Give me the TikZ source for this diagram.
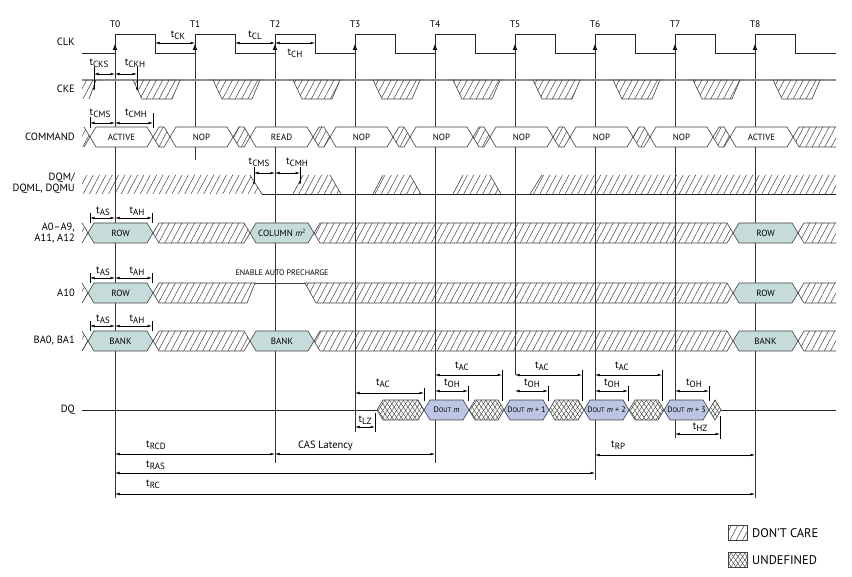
\documentclass[tikz,border=0pt]{standalone}
\usepackage{fontspec}
\setmainfont{PT Sans}
\usetikzlibrary{patterns, patterns.meta, arrows.meta}

\definecolor{addrfill}{HTML}{C5DCDB}
\definecolor{doutfill}{HTML}{BCC5E3}

\newcommand{\tsub}[1]{t\raisebox{-2.2pt}{\fontsize{9}{9}\selectfont#1}}
\newcommand{\hexshape}[4][bus]{\path[#1] (#2,#4) -- (#2+6,#4-10) -- (#3-6,#4-10) -- (#3,#4) -- (#3-6,#4+10) -- (#2+6,#4+10) -- cycle;}
\newcommand{\undefhex}[3]{\hexshape[fill=white]{#1}{#2}{#3}\hexshape[xa]{#1}{#2}{#3}\hexshape[xb]{#1}{#2}{#3}\hexshape[bus]{#1}{#2}{#3}}

\tikzset{
  sig/.style={line width=0.6pt, draw=black!85},
  tline/.style={line width=0.5pt, draw=black!80},
  dim/.style={line width=0.5pt, {Latex[length=4.5pt,width=2.6pt]}-{Latex[length=4.5pt,width=2.6pt]}},
  tick/.style={line width=0.5pt},
  tickarr/.style={line width=0.5pt, -{Latex[length=3pt,width=2pt]}},
  bus/.style={draw=black!75, line width=0.6pt},
  addr/.style={bus, fill=addrfill},
  dc/.style={pattern={Lines[angle=62,distance=5.6pt,line width=0.45pt]}, pattern color=black!80},
  xa/.style={pattern={Lines[angle=56,distance=3.8pt,line width=0.4pt]}, pattern color=black!80},
  xb/.style={pattern={Lines[angle=-56,distance=3.8pt,line width=0.4pt]}, pattern color=black!80},
  lbl/.style={anchor=east, font=\fontsize{10.5}{11.5}\selectfont, align=right, inner sep=0pt},
  tlab/.style={font=\fontsize{10.5}{11}\selectfont, inner sep=0pt},
  inner/.style={font=\fontsize{9}{10}\selectfont, inner sep=0pt},
}

\begin{document}
\begin{tikzpicture}[x=1pt, y=-1pt]
\useasboundingbox (0,0) rectangle (852,577);

% signal names
\node[lbl] (nclk) at (75,42) {CLK};
\node[lbl] (ncke) at (75,89) {CKE};
\node[lbl] (ncmd) at (75,137) {COMMAND};
\node[lbl] (ndqm) at (75,183) {DQM/\\DQML, DQMU};
\node[lbl] (naddr) at (75,233) {A0–A9,\\A11, A12};
\node[lbl] (na10) at (75,293) {A10};
\node[lbl] (nba) at (75,341) {BA0, BA1};
\node[lbl] (ndq) at (75,410) {DQ};

% clock edges and reference lines
\foreach \k/\e [evaluate=\k as \x using 115+80*\k] in {0/498,1/160,2/463,3/432,4/463,5/375,6/480,7/438,8/498}{
  \draw[tline] (\x,53) -- (\x,\e);
  \node[font=\fontsize{9.5}{10}\selectfont] (T\k) at (\x,24) {T\k};
  \fill (\x-2.2,50) -- (\x+2.2,50) -- (\x,44) -- cycle;
}
\draw[sig] (82,53) \foreach \k [evaluate=\k as \x using 115+80*\k] in {0,...,8}{ -- (\x,53) -- (\x,34) -- (\x+40,34) -- (\x+40,53)} -- (836,53);

\draw[dim] (155,43) -- (195,43); \node[tlab] (tck) at (178,35) {\tsub{CK}};
\draw[dim] (235,43) -- (275,43); \node[tlab] (tcl) at (255,35) {\tsub{CL}};
\draw[dim] (275,43) -- (315,43); \node[tlab] (tch) at (295,53) {\tsub{CH}};

% CKE
\draw[line width=1.3pt, black!45] (82,80) -- (836,80);
\path[dc] (82,80) -- (96,80) -- (89,99) -- (82,99) -- cycle;
\draw[bus] (96,80) -- (89,99);
\foreach \k [evaluate=\k as \x using 115+80*\k] in {0,...,8}{
  \path[dc] (\x+18,80) -- (\x+65,80) -- (\x+57,99) -- (\x+27,99) -- cycle;
  \draw[bus] (\x+18,80) -- (\x+27,99) -- (\x+57,99) -- (\x+65,80);
}
\draw[dim] (94,74) -- (115,74);
\draw[dim] (115,74) -- (137,74);
\draw[tickarr] (94,67) -- (94,91);
\draw[tickarr] (137,67) -- (137,91);
\node[tlab] (tcks) at (99,63) {\tsub{CKS}};
\node[tlab] (tckh) at (135,63) {\tsub{CKH}};

% COMMAND
\path[dc] (82,127) -- (84,127) -- (90,137) -- (84,147) -- (82,147) -- cycle;
\draw[bus] (84,127) -- (90,137) -- (84,147);
\foreach \k/\c [evaluate=\k as \x using 115+80*\k] in {0/ACTIVE,1/NOP,2/READ,3/NOP,4/NOP,5/NOP,6/NOP,7/NOP,8/ACTIVE}{
  \hexshape[bus,fill=white]{\x-25}{\x+38}{137}
  \node[inner] (cmd\k) at (\x+6.5,137) {\c};
}
\foreach \k [evaluate=\k as \x using 115+80*\k] in {0,...,7}{
  \hexshape[dc]{\x+38}{\x+55}{137}
  \hexshape[bus]{\x+38}{\x+55}{137}
}
\path[dc] (793,137) -- (799,127) -- (836,127) -- (836,147) -- (799,147) -- cycle;
\draw[bus] (836,127) -- (799,127) -- (793,137) -- (799,147) -- (836,147);
\draw[dim] (90,123) -- (115,123);
\draw[dim] (115,123) -- (153,123);
\draw[tick] (90,117) -- (90,128);
\draw[tick] (153,113) -- (153,128);
\node[tlab] (tcms) at (100,113) {\tsub{CMS}};
\node[tlab] (tcmh) at (136,113) {\tsub{CMH}};

% DQM
\path[dc] (82,175) -- (250,175) -- (262,194) -- (82,194) -- cycle;
\draw[bus] (250,175) -- (262,194);
\draw[sig] (262,194) -- (836,194);
\foreach \k [evaluate=\k as \x using 115+80*\k] in {2,3,4}{
  \path[dc] (\x+18,194) -- (\x+28,175) -- (\x+55,175) -- (\x+66,194) -- cycle;
  \draw[bus] (\x+18,194) -- (\x+28,175);
  \draw[bus] (\x+55,175) -- (\x+66,194);
}
\path[dc] (530,194) -- (542,175) -- (836,175) -- (836,194) -- cycle;
\draw[bus] (530,194) -- (542,175);
\draw[dim] (254,173) -- (275,173);
\draw[dim] (275,173) -- (300,173);
\draw[tickarr] (254,167) -- (254,185);
\draw[tickarr] (300,167) -- (300,185);
\node[tlab] (tcms2) at (259,162) {\tsub{CMS}};
\node[tlab] (tcmh2) at (297,162) {\tsub{CMH}};

% address rows
\foreach \m/\a/\b/\c in {233/ROW/{COLUMN \textit{m}\textsuperscript{2}}/ROW, 341/BANK/BANK/BANK}{
  \path[dc] (82,\m-10) -- (88,\m) -- (82,\m+10) -- cycle;
  \draw[bus] (82,\m-10) -- (88,\m) -- (82,\m+10);
  \hexshape[addr]{88}{153}{\m}
  \hexshape[dc]{153}{250}{\m} \hexshape[bus]{153}{250}{\m}
  \hexshape[addr]{250}{314}{\m}
  \hexshape[dc]{314}{733}{\m} \hexshape[bus]{314}{733}{\m}
  \hexshape[addr]{733}{798}{\m}
  \path[dc] (798,\m) -- (804,\m-10) -- (836,\m-10) -- (836,\m+10) -- (804,\m+10) -- cycle;
  \draw[bus] (836,\m-10) -- (804,\m-10) -- (798,\m) -- (804,\m+10) -- (836,\m+10);
  \node[inner] at (120.5,\m) {\a};
  \node[inner] at (282,\m) {\b};
  \node[inner] at (765.5,\m) {\c};
}
% A10
\path[dc] (82,283) -- (88,293) -- (82,303) -- cycle;
\draw[bus] (82,283) -- (88,293) -- (82,303);
\hexshape[addr]{88}{153}{293}
\path[dc] (153,293) -- (159,283) -- (255,283) -- (247,303) -- (159,303) -- cycle;
\draw[bus] (153,293) -- (159,283) -- (255,283) -- (247,303) -- (159,303) -- cycle;
\draw[bus] (255,283) -- (305,283);
\path[dc] (305,283) -- (727,283) -- (733,293) -- (727,303) -- (316,303) -- cycle;
\draw[bus] (305,283) -- (727,283) -- (733,293) -- (727,303) -- (316,303) -- cycle;
\hexshape[addr]{733}{798}{293}
\path[dc] (798,293) -- (804,283) -- (836,283) -- (836,303) -- (804,303) -- cycle;
\draw[bus] (836,283) -- (804,283) -- (798,293) -- (804,303) -- (836,303);
\node[inner] (a10row) at (120.5,293) {ROW};
\node[inner] (a10row2) at (765.5,293) {ROW};
\node[font=\fontsize{8}{9}\selectfont, inner sep=0pt] (eap) at (282,273) {ENABLE AUTO PRECHARGE};
\foreach \tp in {223,283,331}{
  \draw[dim] (90,\tp-5) -- (115,\tp-5);
  \draw[dim] (115,\tp-5) -- (152,\tp-5);
  \draw[tick] (90,\tp-10) -- (90,\tp);
  \draw[tick] (152,\tp-10) -- (152,\tp);
  \node[tlab] at (103,\tp-12) {\tsub{AS}};
  \node[tlab] at (137,\tp-12) {\tsub{AH}};
}

% DQ
\draw[sig] (82,410) -- (836,410);
\undefhex{377}{424}{410}
\foreach \k/\n [evaluate=\k as \x using 115+80*\k] in {4/,5/ + 1,6/ + 2,7/ + 3}{
  \hexshape[bus,fill=doutfill]{\x-11}{\x+34}{410}
  \node[font=\fontsize{8}{9}\selectfont, inner sep=0pt] (dout\k) at (\x+11.5,410) {D{\fontsize{6.5}{7}\selectfont OUT} \textit{m}\n};
}
\undefhex{469}{504}{410}
\undefhex{549}{584}{410}
\undefhex{629}{664}{410}
\undefhex{709}{721}{410}

\draw[dim] (355,393) -- (424,393);
\draw[tick] (424,388) -- (424,401);
\node[tlab] (tac1) at (383,383) {\tsub{AC}};
\draw[dim] (355,427) -- (375,427);
\draw[tick] (375,413) -- (375,432);
\node[tlab] (tlz) at (365,420) {\tsub{LZ}};
\foreach \k [evaluate=\k as \x using 115+80*\k] in {4,5,6}{
  \draw[dim] (\x,375) -- (\x+67,375);
  \draw[tick] (\x+67,370) -- (\x+67,401);
  \node[tlab] (tac\k) at (\x+27,366) {\tsub{AC}};
  \draw[dim] (\x,391) -- (\x+33,391);
  \draw[tick] (\x+33,386) -- (\x+33,401);
  \node[tlab] (toh\k) at (\x+17,383) {\tsub{OH}};
}
\draw[dim] (675,391) -- (709,391);
\draw[tick] (709,386) -- (709,401);
\node[tlab] (toh7) at (694,383) {\tsub{OH}};
\draw[dim] (675,434) -- (720,434);
\draw[tick] (720,416) -- (720,439);
\node[tlab] (thz) at (700,427) {\tsub{HZ}};

% cycle timing
\draw[dim] (115,454) -- (275,454);
\node[tlab, anchor=west] (trcd) at (146,445) {\tsub{RCD}};
\draw[dim] (275,454) -- (435,454);
\node[tlab, anchor=west] (cas) at (298,446) {CAS Latency};
\draw[dim] (595,455) -- (755,455);
\node[tlab, anchor=west] (trp) at (611,445) {\tsub{RP}};
\draw[dim] (115,473) -- (595,473);
\node[tlab, anchor=west] (tras) at (146,465) {\tsub{RAS}};
\draw[dim] (115,494) -- (755,494);
\node[tlab, anchor=west] (trc) at (146,484) {\tsub{RC}};

% legend
\path[dc] (728,525) rectangle (747,540);
\draw[bus] (728,525) rectangle (747,540);
\node[anchor=west, font=\fontsize{12.5}{13}\selectfont, inner sep=0pt] (ldc) at (752,533) {DON’T CARE};
\fill[white] (728,552) rectangle (747,567);
\path[xa] (728,552) rectangle (747,567);
\path[xb] (728,552) rectangle (747,567);
\draw[bus] (728,552) rectangle (747,567);
\node[anchor=west, font=\fontsize{12.5}{13}\selectfont, inner sep=0pt] (lud) at (752,560) {UNDEFINED};
\end{tikzpicture}
\end{document}
